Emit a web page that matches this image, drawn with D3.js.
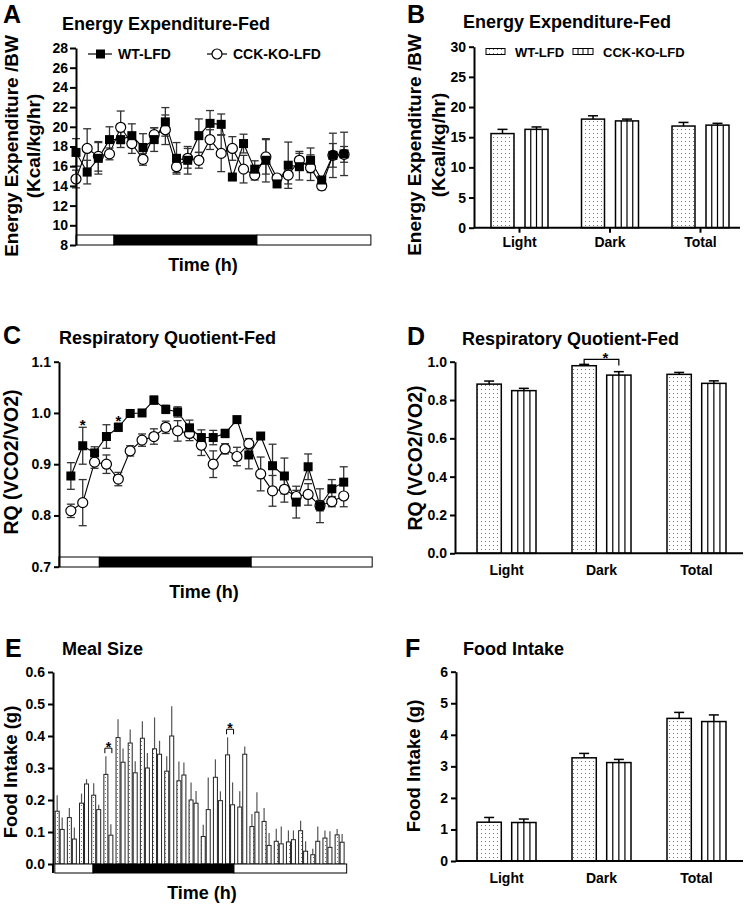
<!DOCTYPE html>
<html><head><meta charset="utf-8">
<script src="https://cdn.jsdelivr.net/npm/d3@7"></script>
<style>
body{margin:0;background:#fff;}
svg{display:block;font-family:"Liberation Sans",Arial,Helvetica,sans-serif;}
</style></head><body>
<svg id="chart" width="747" height="905"></svg>
<script>
// ================= DATA =================
const groups = ["WT-LFD", "CCK-KO-LFD"];
const phases = ["Light", "Dark", "Total"];

// Panel A: Energy expenditure time course (Kcal/kg/hr)
const hoursA = [0,1,2,3,4,5,6,7,8,9,10,11,12,13,14,15,16,17,18,19,20,21,22,23,24];
const eeWT    = [17.4,15.4,16.8,18.7,18.7,19.1,17.9,18.7,20.5,16.8,16.6,19.1,20.35,20.25,14.9,18.3,15.7,16.6,14.2,16.1,15.95,16.6,14.6,17.1,17.25];
const eeWTErr = [1.4,1.2,1.6,1.3,0.8,1.2,1.4,1.2,1.45,1.6,1.4,1.7,1.3,1.05,0.3,0.95,0.85,2.2,0.3,2.35,1.35,1.25,0.3,2.25,2.2];
const eeKO    = [14.7,17.8,17.0,17.25,19.95,18.3,16.7,19.2,19.7,15.95,16.8,16.6,18.7,17.3,17.8,15.7,15.1,16.95,14.8,15.1,16.6,15.85,14.0,17.1,17.2];
const eeKOErr = [0.9,2.0,1.5,0.6,1.65,1.0,0.6,0.7,1.5,0.6,1.0,0.8,1.0,1.85,1.2,1.4,0.5,1.75,0.3,0.9,0.9,1.3,0.4,1.2,0.8];
const eeTicks = [8,10,12,14,16,18,20,22,24,26,28];

// light/dark schedule bar (hours): light, dark, light
const lightsAC = [0, 3.4, 16.2, 26.4];

// Panel B: Energy expenditure summary
const eeBarWT    = [15.6, 18.0, 16.85];
const eeBarWTErr = [0.7, 0.55, 0.6];
const eeBarKO    = [16.3, 17.7, 17.0];
const eeBarKOErr = [0.4, 0.3, 0.3];
const eeBarTicks = [0,5,10,15,20,25,30];

// Panel C: RQ time course
const hoursC = [1,2,3,4,5,6,7,8,9,10,11,12,13,14,15,16,17,18,19,20,21,22,23,24];
const rqWT    = [0.877,0.936,0.922,0.954,0.972,0.999,1.0,1.025,1.007,1.002,0.971,0.952,0.952,0.96,0.987,0.918,0.955,0.897,0.877,0.826,0.895,0.819,0.852,0.865];
const rqWTErr = [0.026,0.036,0.012,0.023,0.008,0.005,0.005,0.008,0.008,0.01,0.015,0.015,0.014,0.008,0.005,0.027,0.006,0.042,0.035,0.031,0.025,0.033,0.018,0.03];
const rqKO    = [0.809,0.825,0.904,0.9,0.871,0.926,0.947,0.954,0.972,0.965,0.96,0.937,0.9,0.93,0.915,0.94,0.881,0.848,0.851,0.837,0.841,0.819,0.827,0.838];
const rqKOErr = [0.013,0.045,0.012,0.018,0.013,0.01,0.012,0.015,0.012,0.02,0.014,0.02,0.026,0.01,0.018,0.01,0.033,0.03,0.025,0.012,0.021,0.01,0.01,0.021];
const rqTicks = [0.7,0.8,0.9,1.0,1.1];
const rqSigHours = [2, 5];

// Panel D: RQ summary
const rqBarWT    = [0.883, 0.979, 0.934];
const rqBarWTErr = [0.016, 0.007, 0.01];
const rqBarKO    = [0.849, 0.93, 0.887];
const rqBarKOErr = [0.012, 0.018, 0.013];
const rqBarTicks = [0,0.2,0.4,0.6,0.8,1.0];
const rqBarSig   = ["Dark"];

// Panel E: meal size (g)
const hoursE = [1,2,3,4,5,6,7,8,9,10,11,12,13,14,15,16,17,18,19,20,21,22,23,24];
const mealWT    = [0.165,0.145,0.19,0.215,0.28,0.395,0.378,0.393,0.36,0.29,0.26,0.20,0.086,0.271,0.341,0.178,0.117,0.133,0.071,0.069,0.104,0.029,0.081,0.091];
const mealWTErr = [0.05,0.03,0.03,0.037,0.057,0.057,0.042,0.053,0.098,0.047,0.06,0.055,0.037,0.056,0.055,0.049,0.039,0.042,0.039,0.036,0.031,0.019,0.024,0.018];
const mealKO    = [0.108,0.078,0.25,0.17,0.09,0.318,0.285,0.30,0.343,0.40,0.278,0.19,0.17,0.198,0.185,0.343,0.162,0.058,0.063,0.076,0.04,0.071,0.052,0.068];
const mealKOErr = [0.037,0.036,0.015,0.015,0.034,0.043,0.036,0.047,0.042,0.093,0.039,0.038,0.1,0.029,0.07,0.024,0.062,0.039,0.054,0.029,0.031,0.046,0.05,0.026];
const mealTicks = [0,0.1,0.2,0.3,0.4,0.5,0.6];
const mealSigHours = [5, 15];
const lightsE = [0.1, 3.24, 14.82, 24.08];

// Panel F: food intake (g)
const fiWT    = [1.23, 3.27, 4.52];
const fiWTErr = [0.15, 0.14, 0.19];
const fiKO    = [1.22, 3.12, 4.42];
const fiKOErr = [0.11, 0.10, 0.21];
const fiTicks = [0,1,2,3,4,5,6];

// ================= DRAWING =================
const svg = d3.select("#chart");
const defs = svg.append("defs");
const dots = defs.append("pattern").attr("id","dots").attr("patternUnits","userSpaceOnUse")
  .attr("width",4).attr("height",4);
dots.append("rect").attr("width",4).attr("height",4).attr("fill","#fff");
dots.append("rect").attr("x",1).attr("y",1).attr("width",1).attr("height",1).attr("fill","#777");

function txt(x, y, s, size, anchor, rot) {
  const t = svg.append("text").attr("font-size", size).attr("font-weight","bold")
    .attr("fill","#000").attr("text-anchor", anchor || "start").text(s);
  if (rot) t.attr("transform", `translate(${x},${y}) rotate(${rot})`);
  else t.attr("x", x).attr("y", y);
  return t;
}
function styleAxis(g) {
  g.attr("font-family", null).attr("font-size", null);
  g.selectAll("path,line").attr("stroke","#000").attr("stroke-width",2);
  g.selectAll("text").attr("font-size",14).attr("font-weight","bold").attr("fill","#000");
}
function lightsBar(xs, bounds, y0, y1) {
  const fills = ["#fff","#000","#fff"];
  for (let i = 0; i < bounds.length - 1; i++) {
    svg.append("rect").attr("x", xs(bounds[i])).attr("y", y0)
      .attr("width", xs(bounds[i+1]) - xs(bounds[i])).attr("height", y1 - y0)
      .attr("fill", fills[i]).attr("stroke","#000").attr("stroke-width",1);
  }
}
function errBars(xs, ys, hrs, vals, errs, capW, color) {
  const g = svg.append("g").attr("stroke", color).attr("stroke-width",1.3);
  hrs.forEach((h, i) => {
    const x = xs(h), yt = ys(vals[i] + errs[i]), yb = ys(vals[i] - errs[i]);
    g.append("line").attr("x1",x).attr("x2",x).attr("y1",yt).attr("y2",yb);
    g.append("line").attr("x1",x-capW/2).attr("x2",x+capW/2).attr("y1",yt).attr("y2",yt);
    g.append("line").attr("x1",x-capW/2).attr("x2",x+capW/2).attr("y1",yb).attr("y2",yb);
  });
}
function timeCourse(o) {
  const line = d3.line().x((d,i) => o.xs(o.hours[i])).y(d => o.ys(d));
  svg.append("path").attr("d", line(o.ko)).attr("fill","none").attr("stroke","#000").attr("stroke-width",1.1);
  svg.append("path").attr("d", line(o.wt)).attr("fill","none").attr("stroke","#000").attr("stroke-width",1.1);
  errBars(o.xs, o.ys, o.hours, o.ko, o.koErr, 8, "#333");
  errBars(o.xs, o.ys, o.hours, o.wt, o.wtErr, 8, "#333");
  svg.append("g").selectAll("circle").data(o.ko).join("circle")
    .attr("cx",(d,i)=>o.xs(o.hours[i])).attr("cy",d=>o.ys(d)).attr("r",5)
    .attr("fill","#fff").attr("stroke","#000").attr("stroke-width",1.2);
  svg.append("g").selectAll("rect").data(o.wt).join("rect")
    .attr("x",(d,i)=>o.xs(o.hours[i])-4.5).attr("y",d=>o.ys(d)-4.5)
    .attr("width",9).attr("height",9).attr("fill","#000");
}
function barPanel(o) {
  const cx = d3.scalePoint().domain(phases).range(o.cRange);
  const sub = d3.scaleBand().domain(groups).range([-o.span/2, o.span/2]).paddingInner(o.pad);
  const bw = sub.bandwidth();
  const series = [[o.wt, o.wtErr, "url(#dots)"], [o.ko, o.koErr, "#fff"]];
  series.forEach((s, gi) => {
    phases.forEach((p, i) => {
      const x = cx(p) + sub(groups[gi]);
      const yv = o.ys(s[0][i]), y0 = o.ys(0);
      const yt = o.ys(s[0][i] + s[1][i]);
      svg.append("line").attr("x1",x+bw/2).attr("x2",x+bw/2).attr("y1",yv).attr("y2",yt)
        .attr("stroke","#000").attr("stroke-width",1.5);
      svg.append("line").attr("x1",x+bw/2-5).attr("x2",x+bw/2+5).attr("y1",yt).attr("y2",yt)
        .attr("stroke","#000").attr("stroke-width",1.5);
      svg.append("rect").attr("x",x).attr("y",yv).attr("width",bw).attr("height",y0-yv)
        .attr("fill",s[2]).attr("stroke","#000").attr("stroke-width",1.5);
      if (gi === 1) {
        [1,2,3].forEach(k => svg.append("line").attr("x1",x+bw*k/4).attr("x2",x+bw*k/4)
          .attr("y1",yv).attr("y2",y0).attr("stroke","#000").attr("stroke-width",1.2));
      }
    });
  });
  const ga = svg.append("g").attr("transform",`translate(${o.axisX},0)`)
    .call(d3.axisLeft(o.ys).tickValues(o.ticks).tickFormat(d3.format(o.fmt)).tickSize(5).tickPadding(3).tickSizeOuter(0));
  styleAxis(ga);
  svg.append("line").attr("x1",o.axisX).attr("x2",o.xEnd).attr("y1",o.ys(0)).attr("y2",o.ys(0))
    .attr("stroke","#000").attr("stroke-width",2);
  if (o.xTicks) phases.forEach(p => svg.append("line").attr("x1",cx(p)).attr("x2",cx(p))
    .attr("y1",o.ys(0)).attr("y2",o.ys(0)+5).attr("stroke","#000").attr("stroke-width",2));
  phases.forEach(p => txt(cx(p), o.catY, p, 14, "middle"));
  return {cx, sub, bw};
}

// ---------- Panel A ----------
const xA = d3.scaleLinear().domain([0, 26.5]).range([76, 372]);
const yA = d3.scaleLinear().domain([8, 28]).range([245, 48]);
lightsBar(xA, lightsAC, 235, 245);
timeCourse({xs:xA, ys:yA, hours:hoursA, wt:eeWT, wtErr:eeWTErr, ko:eeKO, koErr:eeKOErr});
const gA = svg.append("g").attr("transform","translate(76,0)")
  .call(d3.axisLeft(yA).tickValues(eeTicks).tickFormat(d3.format("d")).tickSize(6).tickPadding(2).tickSizeOuter(0));
styleAxis(gA);
txt(3, 23, "A", 25);
txt(62, 30, "Energy Expenditure-Fed", 18);
txt(18, 146, "Energy Expenditure /BW", 19, "middle", -90);
txt(40, 146, "(Kcal/kg/hr)", 19, "middle", -90);
txt(203, 271, "Time (h)", 18, "middle");
// legend A
svg.append("line").attr("x1",88).attr("x2",112).attr("y1",54).attr("y2",54).attr("stroke","#000").attr("stroke-width",1.2);
svg.append("rect").attr("x",96).attr("y",49.5).attr("width",9).attr("height",9).attr("fill","#000");
txt(118, 59, groups[0], 14);
svg.append("line").attr("x1",207).attr("x2",227).attr("y1",54).attr("y2",54).attr("stroke","#000").attr("stroke-width",1.2);
svg.append("circle").attr("cx",217).attr("cy",54).attr("r",5).attr("fill","#fff").attr("stroke","#000").attr("stroke-width",1.2);
txt(233, 59, groups[1], 14);

// ---------- Panel B ----------
const yB = d3.scaleLinear().domain([0, 30]).range([227.7, 46.7]);
barPanel({cRange:[519.5,700.5], span:57, pad:0.3235, ys:yB, ticks:eeBarTicks, fmt:"d",
  wt:eeBarWT, wtErr:eeBarWTErr, ko:eeBarKO, koErr:eeBarKOErr, axisX:474, xEnd:740, xTicks:true, catY:247});
txt(407, 23, "B", 25);
txt(463, 28, "Energy Expenditure-Fed", 18);
txt(421, 145, "Energy Expenditure /BW", 19, "middle", -90);
txt(445, 145, "(Kcal/kg/hr)", 19, "middle", -90);
svg.append("rect").attr("x",486).attr("y",48.5).attr("width",19).attr("height",6).attr("fill","url(#dots)").attr("stroke","#000").attr("stroke-width",1);
txt(515, 57, groups[0], 13);
svg.append("rect").attr("x",573).attr("y",48.5).attr("width",20).attr("height",6).attr("fill","#fff").attr("stroke","#000").attr("stroke-width",1);
[1,2,3].forEach(k => svg.append("line").attr("x1",573+20*k/4).attr("x2",573+20*k/4).attr("y1",48.5).attr("y2",54.5).attr("stroke","#000").attr("stroke-width",1));
txt(603, 57, groups[1], 13);

// ---------- Panel C ----------
const xC = d3.scaleLinear().domain([0, 26.3]).range([59, 371]);
const yC = d3.scaleLinear().domain([0.7, 1.1]).range([566.7, 361.7]);
lightsBar(xC, lightsAC, 557, 567);
timeCourse({xs:xC, ys:yC, hours:hoursC, wt:rqWT, wtErr:rqWTErr, ko:rqKO, koErr:rqKOErr});
const gC = svg.append("g").attr("transform","translate(59,0)")
  .call(d3.axisLeft(yC).tickValues(rqTicks).tickFormat(d3.format(".1f")).tickSize(5).tickPadding(3).tickSizeOuter(0));
styleAxis(gC);
rqSigHours.forEach(h => {
  const i = hoursC.indexOf(h);
  txt(xC(h), yC(rqWT[i] + rqWTErr[i]) + 2.5, "*", 15, "middle");
});
txt(3, 344, "C", 25);
txt(59, 344, "Respiratory Quotient-Fed", 18);
txt(18, 462, "RQ (VCO2/VO2)", 19.5, "middle", -90);
txt(204, 598, "Time (h)", 18, "middle");

// ---------- Panel D ----------
const yD = d3.scaleLinear().domain([0, 1]).range([553.3, 361.7]);
const bd = barPanel({cRange:[506.5,696.5], span:59, pad:0.3, ys:yD, ticks:rqBarTicks, fmt:".1f",
  wt:rqBarWT, wtErr:rqBarWTErr, ko:rqBarKO, koErr:rqBarKOErr, axisX:455, xEnd:743, xTicks:false, catY:575});
rqBarSig.forEach(p => {
  const i = phases.indexOf(p);
  const xw = bd.cx(p) + bd.sub(groups[0]) + bd.bw/2, xk = bd.cx(p) + bd.sub(groups[1]) + bd.bw/2;
  const yb = yD(Math.max(rqBarWT[i] + rqBarWTErr[i], rqBarKO[i] + rqBarKOErr[i])) - 5;
  svg.append("path").attr("d", `M${xw},${yb+6}V${yb}H${xk}V${yb+6}`).attr("fill","none").attr("stroke","#000").attr("stroke-width",1.2);
  txt((xw+xk)/2 + 4, yb + 3.8, "*", 15, "middle");
});
txt(407, 345, "D", 25);
txt(462, 345, "Respiratory Quotient-Fed", 18);
txt(422, 458, "RQ (VCO2/VO2)", 19.5, "middle", -90);

// ---------- Panel E ----------
const xE = d3.scaleBand().domain(hoursE).range([53.6, 345.7]).paddingInner(0).paddingOuter(0);
const xEl = d3.scaleLinear().domain([0, 24]).range([53.6, 345.7]);
const subE = d3.scaleBand().domain(groups).range([xE.bandwidth()/2 - 4.5, xE.bandwidth()/2 + 4.5]).paddingInner(0.2);
const yE = d3.scaleLinear().domain([0, 0.6]).range([864, 672]);
[[mealWT, mealWTErr, "url(#dots)", groups[0]], [mealKO, mealKOErr, "#fff", groups[1]]].forEach(s => {
  hoursE.forEach((h, i) => {
    const x = xE(h) + subE(s[3]);
    const cxm = x + subE.bandwidth()/2;
    svg.append("line").attr("x1",cxm).attr("x2",cxm).attr("y1",yE(s[0][i])).attr("y2",yE(s[0][i]+s[1][i]))
      .attr("stroke","#555").attr("stroke-width",1.2);
    svg.append("rect").attr("x",x).attr("y",yE(s[0][i])).attr("width",subE.bandwidth())
      .attr("height",yE(0)-yE(s[0][i])).attr("fill",s[2]).attr("stroke","#222").attr("stroke-width",1);
  });
});
lightsBar(xEl, lightsE, 864, 873);
const gE = svg.append("g").attr("transform","translate(53,0)")
  .call(d3.axisLeft(yE).tickValues(mealTicks).tickFormat(d3.format(".1f")).tickSize(5).tickPadding(3).tickSizeOuter(0));
styleAxis(gE);
svg.append("line").attr("x1",53).attr("x2",53).attr("y1",yE(0)).attr("y2",873).attr("stroke","#000").attr("stroke-width",2);
mealSigHours.forEach(h => {
  const i = hoursE.indexOf(h);
  const xw = xE(h) + subE(groups[0]) + subE.bandwidth()/2, xk = xE(h) + subE(groups[1]) + subE.bandwidth()/2;
  const yb = yE(Math.max(mealWT[i] + mealWTErr[i], mealKO[i] + mealKOErr[i])) - 8;
  svg.append("path").attr("d", `M${xw-1},${yb+5}V${yb}H${xk+1}V${yb+5}`).attr("fill","none").attr("stroke","#000").attr("stroke-width",1);
  txt((xw+xk)/2, yb + 3.5, "*", 14, "middle");
});
txt(5, 657, "E", 25);
txt(62, 655, "Meal Size", 18);
txt(17, 772, "Food Intake (g)", 18.5, "middle", -90);
txt(202, 899, "Time (h)", 18, "middle");

// ---------- Panel F ----------
const yF = d3.scaleLinear().domain([0, 6]).range([861, 671.7]);
barPanel({cRange:[506.5,696.5], span:59, pad:0.3, ys:yF, ticks:fiTicks, fmt:"d",
  wt:fiWT, wtErr:fiWTErr, ko:fiKO, koErr:fiKOErr, axisX:456, xEnd:743, xTicks:false, catY:883});
txt(405, 657, "F", 25);
txt(463, 655, "Food Intake", 18);
txt(420, 766, "Food Intake (g)", 18.5, "middle", -90);
</script>
</body></html>
